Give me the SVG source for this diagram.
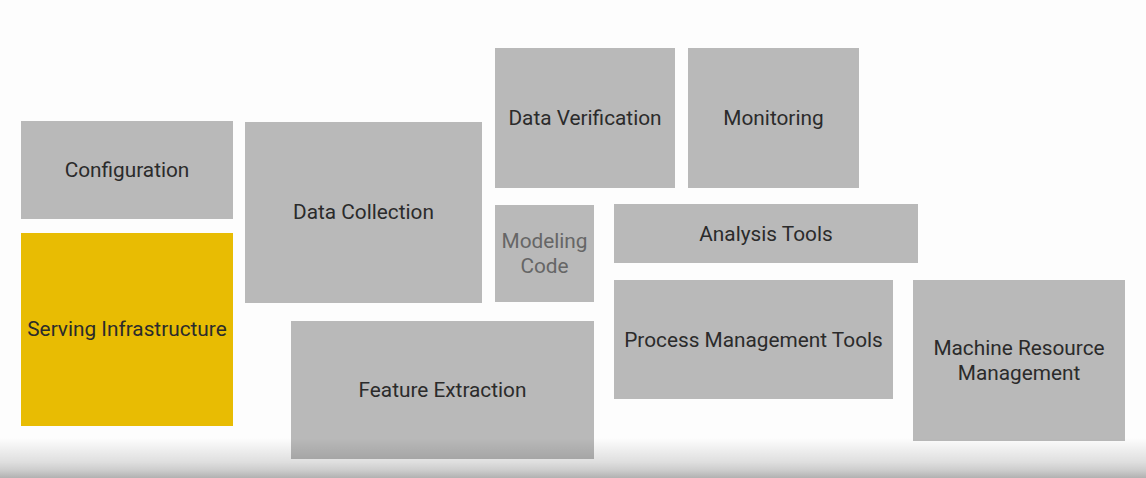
<svg xmlns="http://www.w3.org/2000/svg" width="1146" height="478" viewBox="0 0 1146 478">
<defs>
<style>
.box{fill:#b9b9b9;}
.hl{fill:#e8bc03;}
.t{font-family:Roboto,"Liberation Sans",sans-serif;font-size:20.8px;fill:#2b2b2b;text-anchor:middle;}
.dim{fill:#666666;}
</style>
<linearGradient id="floor" x1="0" y1="0" x2="0" y2="1">
<stop offset="0" stop-color="#000" stop-opacity="0"/>
<stop offset="0.3" stop-color="#000" stop-opacity="0.06"/>
<stop offset="0.6" stop-color="#000" stop-opacity="0.12"/>
<stop offset="0.8" stop-color="#000" stop-opacity="0.19"/>
<stop offset="1" stop-color="#000" stop-opacity="0.3"/>
</linearGradient>
</defs>
<rect x="0" y="0" width="1146" height="478" fill="#fdfdfd"/>
<g id="connectors"></g>
<g id="configuration"><rect class="box" x="21" y="121" width="212" height="98"/><text class="t" x="127" y="177">Configuration</text></g>
<g id="serving-infrastructure"><rect class="hl" x="21" y="233" width="212" height="193"/><text class="t" x="127" y="336">Serving Infrastructure</text></g>
<g id="data-collection"><rect class="box" x="245" y="122" width="237" height="181"/><text class="t" x="363.5" y="219">Data Collection</text></g>
<g id="feature-extraction"><rect class="box" x="291" y="321" width="303" height="138"/><text class="t" x="442.5" y="397">Feature Extraction</text></g>
<g id="data-verification"><rect class="box" x="495" y="48" width="180" height="140"/><text class="t" x="585" y="125">Data Verification</text></g>
<g id="monitoring"><rect class="box" x="688" y="48" width="171" height="140"/><text class="t" x="773.5" y="125">Monitoring</text></g>
<g id="modeling-code"><rect class="box" x="495" y="205" width="99" height="97"/><text class="t dim" x="544.5" y="248">Modeling</text><text class="t dim" x="544.5" y="273">Code</text></g>
<g id="analysis-tools"><rect class="box" x="614" y="204" width="304" height="59"/><text class="t" x="766" y="241">Analysis Tools</text></g>
<g id="process-management-tools"><rect class="box" x="614" y="280" width="279" height="119"/><text class="t" x="753.5" y="347">Process Management Tools</text></g>
<g id="machine-resource-management"><rect class="box" x="913" y="280" width="212" height="161"/><text class="t" x="1019" y="355">Machine Resource</text><text class="t" x="1019" y="380">Management</text></g>
<rect x="0" y="438" width="1146" height="40" fill="url(#floor)"/>
</svg>
